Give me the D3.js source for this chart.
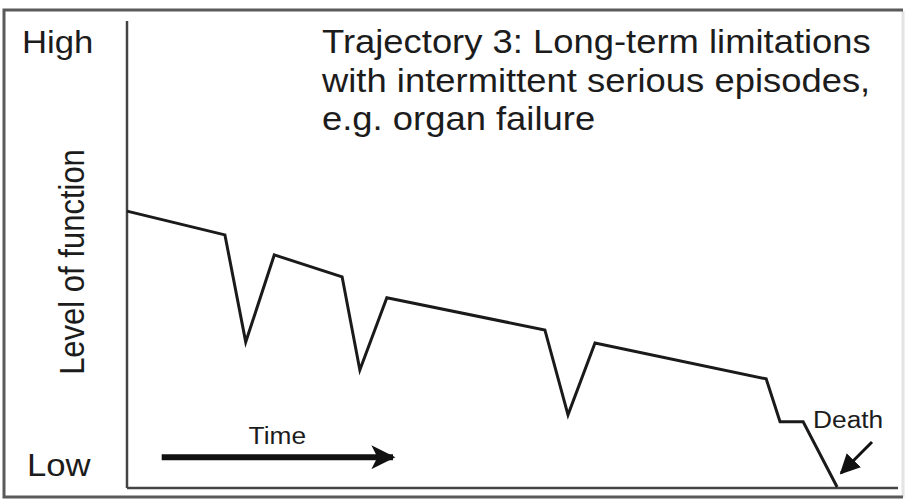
<!DOCTYPE html>
<html>
<head>
<meta charset="utf-8">
<script src="https://cdn.jsdelivr.net/npm/d3@7"></script>
<style>
  body { margin: 0; background: #fff; overflow: hidden; }
  svg { display: block; }
  text { font-family: "Liberation Sans", Arial, sans-serif; fill: #1c1c1c; }
</style>
</head>
<body>
<div id="chart"></div>
<script>
// trajectory: time (0-100) vs level of function (0-100)
var times  = [0, 12.7, 15.4, 19.1, 27.9, 30.2, 33.7, 54.2, 57.2, 60.7, 82.9, 84.7, 87.7, 92.1];
var levels = [59.2, 54.1, 31.1, 49.8, 45.1, 25.1, 40.6, 33.7, 15.5, 30.9, 23.2, 14.0, 14.0, 0];

var yLabels = ["Low", "High"];
var titleLines = [
    "Trajectory 3: Long-term limitations",
    "with intermittent serious episodes,",
    "e.g. organ failure"
];
var timeArrow = [4.5, 34.5];   // start / end on time scale
var timeArrowLevel = 6.4;

var width = 910;
var height = 502;
var stretch = 1.12; // the source picture is a bit wider than tall

var x = d3.scaleLinear().domain([0, 100]).range([127, 898]);
var y = d3.scaleLinear().domain([0, 100]).range([487, 21]);

var svg = d3.select('#chart')
    .append('svg')
    .attr('width', width)
    .attr('height', height);

var defs = svg.append('defs');
defs.append('marker')
    .attr('id', 'head')
    .attr('viewBox', '0 0 10 10')
    .attr('refX', 9)
    .attr('refY', 5)
    .attr('markerUnits', 'userSpaceOnUse')
    .attr('markerWidth', 32)
    .attr('markerHeight', 24)
    .attr('orient', 'auto')
    .append('path')
    .attr('d', 'M0,0 L10,5 L0,10 L2.5,5 Z')
    .attr('fill', '#111');
defs.append('marker')
    .attr('id', 'head2')
    .attr('viewBox', '0 0 10 10')
    .attr('refX', 9)
    .attr('refY', 5)
    .attr('markerUnits', 'userSpaceOnUse')
    .attr('markerWidth', 20)
    .attr('markerHeight', 20)
    .attr('orient', 'auto')
    .append('path')
    .attr('d', 'M0,0 L10,5 L0,10 Z')
    .attr('fill', '#111');

// outer frame
svg.append('line')
    .attr('x1', 903).attr('x2', 903)
    .attr('y1', 11).attr('y2', 497)
    .attr('stroke', '#e4e4e4')
    .attr('stroke-width', 3);
svg.append('path')
    .attr('d', 'M903,10 L4,10 L4,497 L903,497')
    .attr('fill', 'none')
    .attr('stroke', '#5a5a5a')
    .attr('stroke-width', 3);

// axes (plain lines, no ticks)
svg.append('line')
    .attr('x1', x(0)).attr('x2', x(0))
    .attr('y1', y(100)).attr('y2', y(0) + 1)
    .attr('stroke', '#444')
    .attr('stroke-width', 2.5);
svg.append('line')
    .attr('x1', x(0)).attr('x2', x(100))
    .attr('y1', y(0) + 1).attr('y2', y(0) + 1)
    .attr('stroke', '#444')
    .attr('stroke-width', 2.5);

function label(txt, px, py, size, anchor) {
    svg.append('g')
        .attr('transform', 'translate(' + px + ',' + py + ') scale(' + stretch + ',1)')
        .append('text')
        .attr('font-size', size)
        .attr('text-anchor', anchor || 'start')
        .text(txt);
}

// High / Low
label(yLabels[1], 22, 53, 31);
label(yLabels[0], 27, 476, 31);

// y-axis title
svg.append('text')
    .attr('transform', 'translate(84,' + 262 + ') rotate(-90) scale(1,' + stretch + ')')
    .attr('font-size', 31)
    .attr('text-anchor', 'middle')
    .text('Level of function');

// chart title
titleLines.forEach(function (t, i) {
    label(t, 322, 53 + i * 38.5, 32.5);
});

// trajectory line
var line = d3.line()
    .x(function (d) { return x(d[0]); })
    .y(function (d) { return y(d[1]); });

svg.append('path')
    .datum(d3.zip(times, levels))
    .attr('d', line)
    .attr('fill', 'none')
    .attr('stroke', '#1a1a1a')
    .attr('stroke-width', 3)
    .attr('stroke-linejoin', 'miter');

// time arrow
svg.append('line')
    .attr('x1', x(timeArrow[0])).attr('x2', x(timeArrow[1]))
    .attr('y1', y(timeArrowLevel)).attr('y2', y(timeArrowLevel))
    .attr('stroke', '#111')
    .attr('stroke-width', 6)
    .attr('marker-end', 'url(#head)');
label('Time', x((timeArrow[0] + timeArrow[1]) / 2), 444, 23.5, 'middle');

// death marker
var deathT = times[times.length - 1];
label('Death', 813, 428, 23.5);
svg.append('line')
    .attr('x1', 872).attr('y1', 442)
    .attr('x2', x(deathT) + 4).attr('y2', y(0) - 14)
    .attr('stroke', '#111')
    .attr('stroke-width', 3)
    .attr('marker-end', 'url(#head2)');
</script>
</body>
</html>
